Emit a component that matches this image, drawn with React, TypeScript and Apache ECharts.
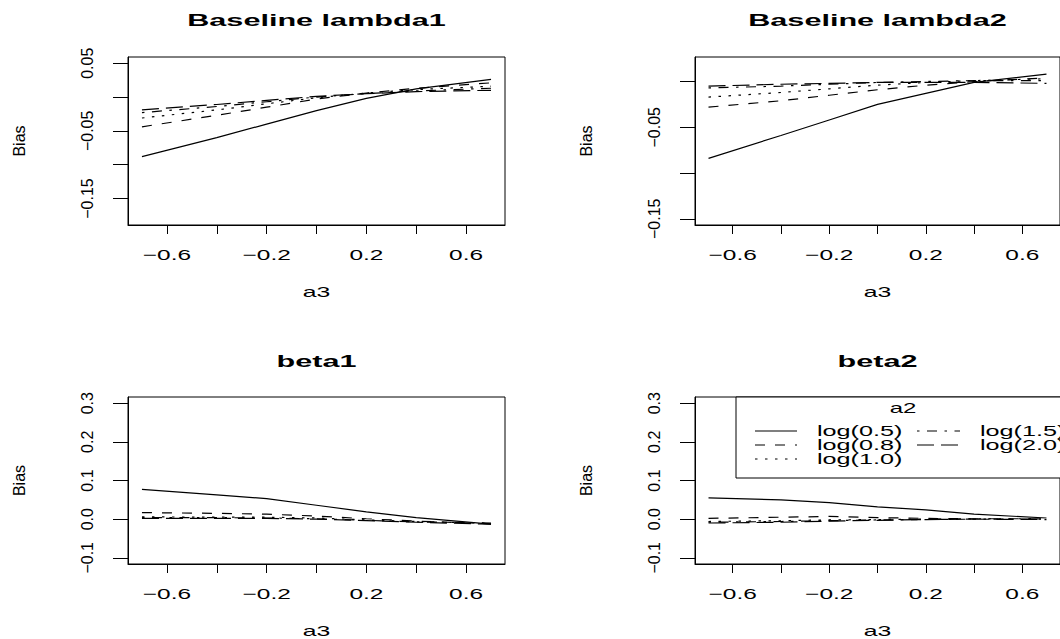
import React, { useEffect, useRef } from "react";
import * as echarts from "echarts";

// ---- data ----
const a3 = [-0.7, -0.4, -0.2, 0, 0.2, 0.4, 0.7];
const a2Levels = ["log(0.5)", "log(0.8)", "log(1.0)", "log(1.5)", "log(2.0)"];
const panelTitles = ["Baseline lambda1", "Baseline lambda2", "beta1", "beta2"];

const lambda1_05 = [-0.088, -0.060, -0.040, -0.020, -0.002, 0.012, 0.026];
const lambda1_08 = [-0.044, -0.027, -0.015, -0.003, 0.006, 0.013, 0.021];
const lambda1_10 = [-0.031, -0.019, -0.010, -0.001, 0.006, 0.011, 0.016];
const lambda1_15 = [-0.023, -0.014, -0.007, 0.000, 0.005, 0.009, 0.013];
const lambda1_20 = [-0.019, -0.011, -0.005, 0.001, 0.005, 0.008, 0.010];

const lambda2_05 = [-0.084, -0.059, -0.042, -0.025, -0.013, -0.001, 0.008];
const lambda2_08 = [-0.028, -0.021, -0.015, -0.009, -0.004, 0.000, 0.004];
const lambda2_10 = [-0.017, -0.012, -0.008, -0.004, -0.001, 0.001, 0.003];
const lambda2_15 = [-0.007, -0.005, -0.003, -0.001, 0.000, 0.001, 0.001];
const lambda2_20 = [-0.005, -0.003, -0.002, -0.001, -0.001, -0.001, -0.002];

const beta1_05 = [0.077, 0.063, 0.053, 0.036, 0.019, 0.004, -0.013];
const beta1_08 = [0.017, 0.015, 0.013, 0.008, 0.001, -0.005, -0.012];
const beta1_10 = [0.006, 0.005, 0.005, 0.003, -0.002, -0.006, -0.011];
const beta1_15 = [0.004, 0.004, 0.003, 0.001, -0.003, -0.007, -0.010];
const beta1_20 = [0.002, 0.002, 0.002, 0.000, -0.004, -0.008, -0.013];

const beta2_05 = [0.055, 0.050, 0.043, 0.032, 0.024, 0.013, 0.003];
const beta2_08 = [0.002, 0.005, 0.007, 0.004, 0.002, 0.001, 0.001];
const beta2_10 = [-0.006, -0.004, -0.002, -0.001, 0.000, 0.001, 0.001];
const beta2_15 = [-0.008, -0.006, -0.004, -0.002, -0.001, 0.000, 0.000];
const beta2_20 = [-0.010, -0.008, -0.005, -0.003, -0.001, 0.000, -0.001];

// axis ticks
const xTicks = [-0.6, -0.4, -0.2, 0, 0.2, 0.4, 0.6];
const xTickLabelVals = [-0.6, -0.2, 0.2, 0.6];
const xTickLabelTexts = ["\u22120.6", "\u22120.2", "0.2", "0.6"];

const yTicksLambda1 = [-0.15, -0.1, -0.05, 0, 0.05];
const yLabelValsLambda1 = [-0.15, -0.05, 0.05];
const yLabelTextsLambda1 = ["\u22120.15", "\u22120.05", "0.05"];

const yTicksLambda2 = [-0.15, -0.1, -0.05, 0];
const yLabelValsLambda2 = [-0.15, -0.05];
const yLabelTextsLambda2 = ["\u22120.15", "\u22120.05"];

const yTicksBeta = [-0.1, 0, 0.1, 0.2, 0.3];
const yLabelTextsBeta = ["\u22120.1", "0.0", "0.1", "0.2", "0.3"];

// ---- styling ----
const FONT = "Liberation Sans, Arial, Helvetica, sans-serif";
const dashes: any[] = ["solid", [10, 10], [2.5, 7.5], [2.5, 7.5, 10, 7.5], [17, 7]];
const STRETCH = 1.63;

const panels = [
  { title: panelTitles[0], series: [lambda1_05, lambda1_08, lambda1_10, lambda1_15, lambda1_20],
    ylim: [-0.18, 0.05], yTicks: yTicksLambda1, yLabVals: yLabelValsLambda1, yLabTexts: yLabelTextsLambda1 },
  { title: panelTitles[1], series: [lambda2_05, lambda2_08, lambda2_10, lambda2_15, lambda2_20],
    ylim: [-0.15, 0.02], yTicks: yTicksLambda2, yLabVals: yLabelValsLambda2, yLabTexts: yLabelTextsLambda2 },
  { title: panelTitles[2], series: [beta1_05, beta1_08, beta1_10, beta1_15, beta1_20],
    ylim: [-0.1, 0.3], yTicks: yTicksBeta, yLabVals: yTicksBeta, yLabTexts: yLabelTextsBeta },
  { title: panelTitles[3], series: [beta2_05, beta2_08, beta2_10, beta2_15, beta2_20],
    ylim: [-0.1, 0.3], yTicks: yTicksBeta, yLabVals: yTicksBeta, yLabTexts: yLabelTextsBeta },
];

const gridLeft = [128, 695, 128, 695];
const gridTop = [57, 57, 397, 397];
const gridW = 377;
const gridH = [168, 168, 167, 167];
const titleY = [20, 20, 361, 361];

function ext(lo: number, hi: number) {
  const d = (hi - lo) * 0.04;
  return [lo - d, hi + d];
}

export default function App() {
  const ref = useRef<HTMLDivElement>(null);
  useEffect(() => {
    document.body.style.margin = "0";
    const chart = echarts.init(ref.current!, null, { renderer: "svg" });
    const [xmin, xmax] = ext(-0.7, 0.7);

    const grids = panels.map((_, i) => ({
      left: gridLeft[i], top: gridTop[i], width: gridW, height: gridH[i],
      show: true, borderColor: "#000", borderWidth: 1, backgroundColor: "transparent",
      containLabel: false,
    }));
    const xAxes = panels.map((_, i) => ({
      type: "value", gridIndex: i, min: xmin, max: xmax,
      axisLine: { show: true, onZero: false, lineStyle: { color: "#000", width: 1 } },
      axisTick: { show: true, inside: false, length: 9, customValues: xTicks, lineStyle: { color: "#000", width: 1 } },
      axisLabel: { show: false },
      splitLine: { show: false },
    }));
    const yAxes = panels.map((p, i) => {
      const [lo, hi] = ext(p.ylim[0], p.ylim[1]);
      return {
        type: "value", gridIndex: i, min: lo, max: hi,
        axisLine: { show: true, onZero: false, lineStyle: { color: "#000", width: 1 } },
        axisTick: { show: true, inside: false, length: 15, customValues: p.yTicks, lineStyle: { color: "#000", width: 1 } },
        axisLabel: {
          show: true, customValues: p.yLabVals, rotate: 90, margin: 33,
          fontSize: 16, fontFamily: FONT, color: "#000",
          formatter: (v: number) => {
            const k = p.yLabVals.findIndex((u) => Math.abs(u - v) < 1e-9);
            return k >= 0 ? p.yLabTexts[k] : "";
          },
        },
        splitLine: { show: false },
      };
    });
    const series: any[] = [];
    panels.forEach((p, i) => {
      p.series.forEach((vals, j) => {
        series.push({
          type: "line", name: a2Levels[j], xAxisIndex: i, yAxisIndex: i,
          data: a3.map((x, k) => [x, vals[k]]),
          symbol: "none", showSymbol: false, silent: true,
          lineStyle: { color: "#000", width: 1.2, type: dashes[j] },
        });
      });
    });

    chart.setOption({
      animation: false,
      backgroundColor: "#fff",
      grid: grids, xAxis: xAxes, yAxis: yAxes, series,
    });

    const g: any[] = [];
    const hText = (text: string, x: number, y: number, opts: any = {}) => ({
      type: "text", x, y, scaleX: opts.scaleX ?? STRETCH, silent: true,
      style: {
        text, fill: "#000", fontFamily: FONT, fontSize: opts.fontSize ?? 15,
        fontWeight: opts.fontWeight ?? "normal",
        textAlign: opts.align ?? "center", textVerticalAlign: "middle",
      },
    });
    panels.forEach((p, i) => {
      const bottom = gridTop[i] + gridH[i];
      const cx = (chart.convertToPixel({ gridIndex: i }, [0, 0]) as number[])[0];
      const cy = gridTop[i] + gridH[i] / 2;
      g.push(hText(p.title, cx, titleY[i], { fontSize: 17, fontWeight: "bold", scaleX: 1.8 }));
      xTickLabelVals.forEach((v, k) => {
        const px = (chart.convertToPixel({ gridIndex: i }, [v, 0]) as number[])[0];
        g.push(hText(xTickLabelTexts[k], px, bottom + 30));
      });
      g.push(hText("a3", cx, bottom + 67, { scaleX: 1.65 }));
      g.push({
        type: "text", x: gridLeft[i] - 109, y: cy, rotation: Math.PI / 2, silent: true,
        style: { text: "Bias", fill: "#000", fontFamily: FONT, fontSize: 16, textAlign: "center", textVerticalAlign: "middle" },
      });
    });

    // legend (panel beta2)
    const lx = 736, ly = 397;
    g.push({ type: "rect", shape: { x: lx, y: ly, width: 420, height: 81 }, silent: true,
      style: { fill: "#fff", stroke: "#000", lineWidth: 1 } });
    g.push(hText("a2", 903, 408, { scaleX: 1.6 }));
    const rowsY = [431, 445, 459];
    const colLine = [[755, 797], [917, 960]];
    const colText = [817, 980];
    a2Levels.forEach((lab, j) => {
      const col = j < 3 ? 0 : 1;
      const row = j < 3 ? j : j - 3;
      const y = rowsY[row];
      const d = dashes[j];
      g.push({ type: "line", silent: true,
        shape: { x1: colLine[col][0], y1: y, x2: colLine[col][1], y2: y },
        style: { stroke: "#000", lineWidth: 1.2, lineDash: Array.isArray(d) ? d : null } });
      g.push(hText(lab, colText[col], y, { align: "left", scaleX: 1.68 }));
    });

    chart.setOption({ graphic: g });
    return () => chart.dispose();
  }, []);
  return <div ref={ref} style={{ width: 1060, height: 639, overflow: "hidden" }} />;
}
